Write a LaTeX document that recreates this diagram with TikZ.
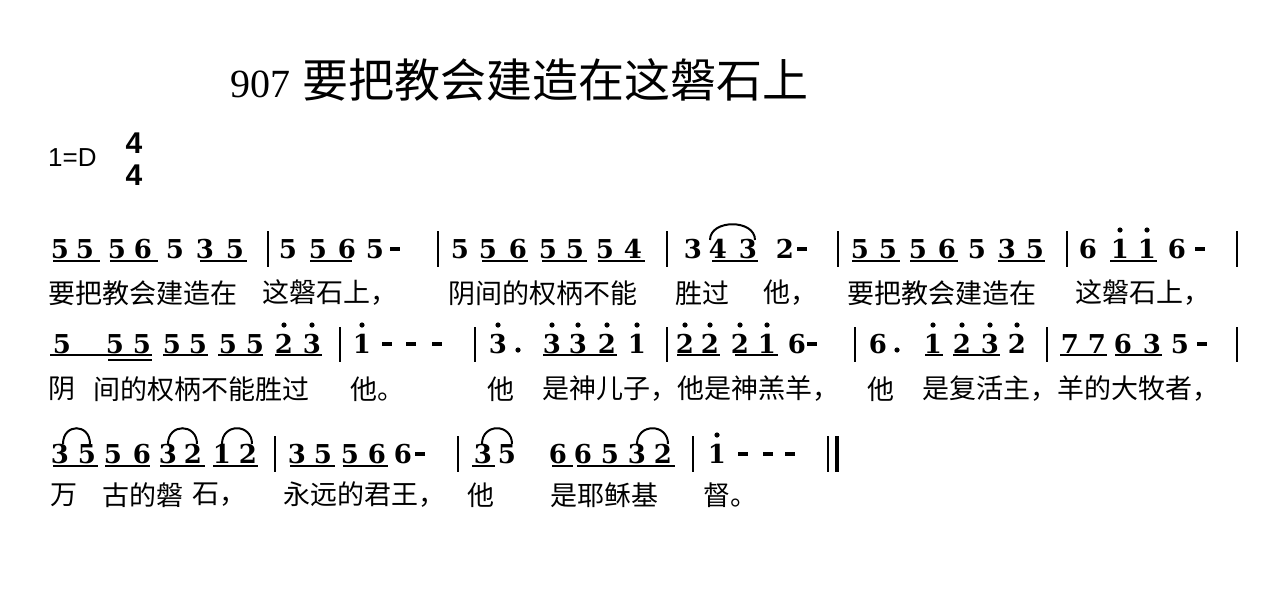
\documentclass[tikz,border=0pt]{standalone}
\usepackage{fontspec}
\setmainfont{Liberation Serif}
\newfontfamily\cjk{Noto Sans CJK SC}
\newfontfamily\arial{Liberation Sans}
\newfontfamily\numfont{DejaVu Serif Bold}
\tikzset{
  num/.style={font=\numfont\fontsize{26}{26}\selectfont, inner sep=0pt},
  lyr/.style={font=\cjk\fontsize{27}{27}\selectfont, inner sep=0pt, anchor=west},
  bar/.style={line width=1.3pt},
  uline/.style={line width=2.4pt},
  hold/.style={line width=4.5pt},
  slur/.style={line width=2pt}
}
\begin{document}
\begin{tikzpicture}[x=1pt,y=-1pt]
  \useasboundingbox[fill=white] (0,0) rectangle (1280,595);
  % heading
  \node[anchor=west, inner sep=0pt, font=\fontsize{40}{40}\selectfont] (title) at (230,80)
    {907\hspace{12pt}{\cjk\fontsize{46}{46}\selectfont 要把教会建造在这磐石上}};
  \node[anchor=west, inner sep=0pt, font=\arial\fontsize{26}{26}\selectfont] (key) at (48,158) {1=D};
  \node[inner sep=0pt, font=\arial\bfseries\fontsize{30}{30}\selectfont] (top) at (134,143) {4};
  \node[inner sep=0pt, font=\arial\bfseries\fontsize{30}{30}\selectfont] (bot) at (134,175) {4};
  % row 1
  \begin{scope}[shift={(0,249)}]
    \foreach \x/\d [count=\i] in {60/5,85/5,117/5,143/6,175/5,205/3,235/5,288/5,318/5,347/6,375/5,
        460/5,488/5,518/6,548/5,575/5,605/5,633/4,693/3,718/4,748/3,785/2,
        860/5,888/5,918/5,947/6,977/5,1007/3,1035/5,1088/6,1120/1,1147/1,1177/6}
      \node[num] (a\i) at (\x,0) {\d};
    \foreach \x in {1120,1147} \fill (\x,-19) circle (2.6);
    \foreach \x in {395,802,1200} \draw[hold] (\x-5,0) -- (\x+5,0);
    \foreach \a/\b in {53/100,110/158,200/247,310/352,482/528,542/587,598/645,712/758,
        852/900,910/958,998/1045,1110/1157}
      \draw[uline] (\a,12) -- (\b,12);
    \draw[slur] (710,-9) .. controls (710,-30) and (755,-30) .. (755,-9);
    \foreach \x in {268,438,667,838,1067,1237} \draw[bar] (\x,-18) -- (\x,18);
    \foreach \x/\t in {48/要把教会建造在,262/这磐石上，,448/阴间的权柄不能,675/胜过,763/他，,
        847/要把教会建造在,1075/这磐石上，}
      \node[lyr] at (\x,44) {\t};
  \end{scope}
  % row 2
  \begin{scope}[shift={(0,344)}]
    \foreach \x/\d [count=\i] in {62/5,115/5,142/5,172/5,198/5,228/5,255/5,284/2,312/3,362/1,
        498/3,552/3,578/3,607/2,637/1,685/2,710/2,740/2,767/1,797/6,
        878/6,933/1,962/2,990/3,1017/2,1070/7,1097/7,1123/6,1152/3,1180/5}
      \node[num] (b\i) at (\x,0) {\d};
    \foreach \x in {284,312,362,498,552,578,607,637,685,710,740,767,933,962,990,1017}
      \fill (\x,-19) circle (2.6);
    \foreach \x in {518,897} \fill (\x,6) circle (2.6);
    \foreach \x in {387,411,437,812,1202} \draw[hold] (\x-5,0) -- (\x+5,0);
    \foreach \a/\b in {50/152,163/208,218/263,275/322,543/617,677/720,735/778,925/943,
        953/1000,1060/1107,1115/1162}
      \draw[uline] (\a,11) -- (\b,11);
    \draw[uline] (108,16) -- (152,16);
    \foreach \x in {340,475,667,855,1047,1237} \draw[bar] (\x,-17) -- (\x,18);
    \foreach \x/\t in {48/阴,93/间的权柄不能胜过,350/他。,487/他,542/是神儿子，他是神羔羊，,
        867/他,922/是复活主，羊的大牧者，}
      \node[lyr] at (\x,45) {\t};
  \end{scope}
  % row 3
  \begin{scope}[shift={(0,454)}]
    \foreach \x/\d [count=\i] in {60/3,87/5,113/5,142/6,168/3,193/2,222/1,248/2,
        297/3,323/5,350/5,377/6,403/6,483/3,507/5,558/6,583/6,610/5,637/3,663/2,717/1}
      \node[num] (c\i) at (\x,0) {\d};
    \fill (717,-19) circle (2.6);
    \foreach \x in {420,743,768,790} \draw[hold] (\x-5,0) -- (\x+5,0);
    \foreach \a/\b in {53/98,105/150,160/205,213/258,290/335,343/388,472/495,552/573,577/675}
      \draw[uline] (\a,12) -- (\b,12);
    \foreach \a/\b in {63/90,168/197,222/252,482/512,637/668}
      \draw[slur] (\a,-10) .. controls (\a,-31) and (\b,-31) .. (\b,-10);
    \foreach \x in {275,458,693} \draw[bar] (\x,-18) -- (\x,18);
    \draw[bar] (828,-18) -- (828,18);
    \draw[line width=4.5pt] (837,-18) -- (837,18);
    \foreach \x/\t in {50/万,102/古的磐,192/石，,283/永远的君王，,467/他,550/是耶稣基,703/督。}
      \node[lyr] at (\x,41) {\t};
  \end{scope}
\end{tikzpicture}
\end{document}
